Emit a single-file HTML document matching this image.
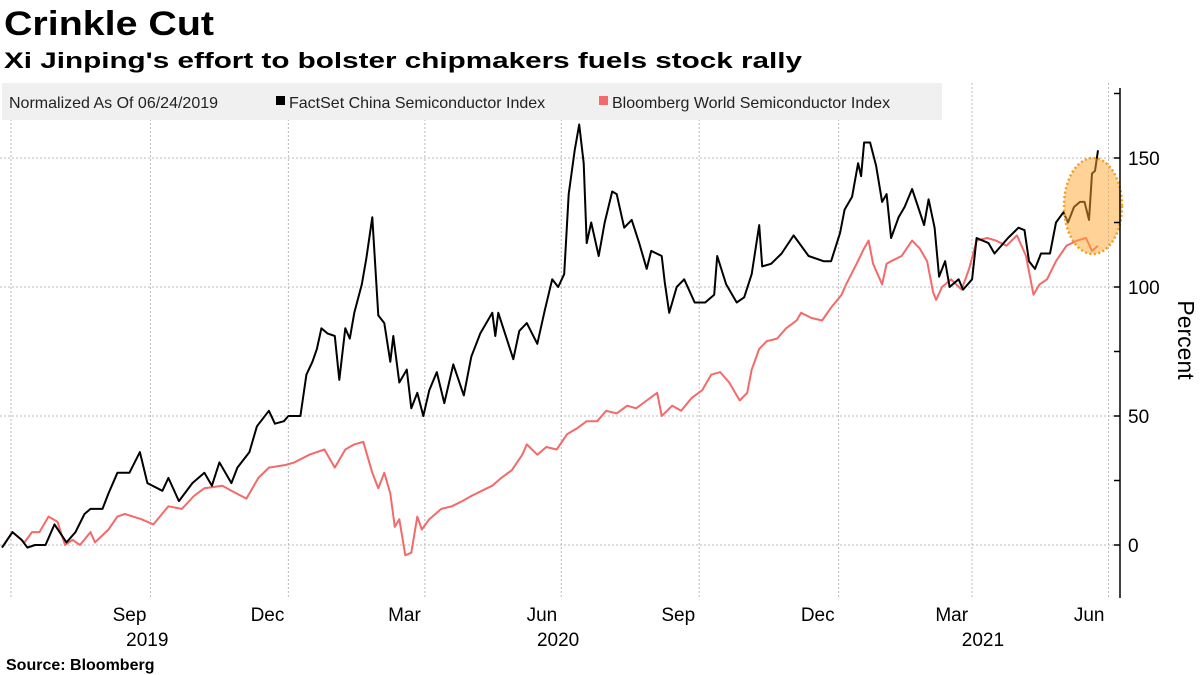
<!DOCTYPE html>
<html><head><meta charset="utf-8"><style>
html,body{margin:0;padding:0;background:#fff;}
svg{display:block;font-family:"Liberation Sans","DejaVu Sans",sans-serif;}
</style></head><body>
<svg id="chart" width="1200" height="675" viewBox="0 0 1200 675">
<text x="4" y="35" font-size="34" font-weight="bold" textLength="210" lengthAdjust="spacingAndGlyphs">Crinkle Cut</text>
<text x="4" y="68" font-size="22" font-weight="bold" textLength="798" lengthAdjust="spacingAndGlyphs">Xi Jinping's effort to bolster chipmakers fuels stock rally</text>
<g id="grid"></g>
<g id="series"></g>
<ellipse cx="1093" cy="206" rx="29" ry="48" fill="rgba(255,168,50,0.5)" stroke="#f0a020" stroke-width="2.5" stroke-dasharray="2,2.5"/>
<rect x="2" y="83" width="940" height="37" fill="#f0f0f0"/>
<text x="9" y="108" font-size="16" fill="#222">Normalized As Of 06/24/2019</text>
<rect x="276" y="96" width="9" height="9" fill="#000"/>
<text x="289" y="108" font-size="16" fill="#222">FactSet China Semiconductor Index</text>
<rect x="599" y="96" width="9" height="9" fill="#f36a6a"/>
<text x="612" y="108" font-size="16" fill="#222">Bloomberg World Semiconductor Index</text>
<g id="axes"></g>
<text transform="translate(1178,340) rotate(90)" font-size="23" text-anchor="middle">Percent</text>
<text x="6" y="670" font-size="16" font-weight="bold">Source: Bloomberg</text>
</svg>
<script>
const chinaDays=[0,7,13,17,22,29,35,43,49,55,59,67,71,77,85,92,97,107,111,118,127,135,140,145,153,157,165,170,178,182,188,191,199,203,207,210,213,217,222,225,229,232,235,240,243,247,251,255,259,261,265,270,273,277,281,285,290,295,301,308,313,319,327,329,331,341,345,350,357,362,367,371,375,378,382,385,388,390,393,398,402,407,410,415,420,425,430,433,440,442,445,450,455,462,469,475,477,483,490,495,500,505,507,513,520,528,538,548,553,559,562,567,571,573,575,579,583,587,590,593,598,602,607,611,615,618,622,625,629,632,638,641,647,650,658,662,671,678,682,685,689,693,699,703,708,711,715,719,722,725,727,729,731];
const chinaValues=[-1,5,2,-1,0,0,8,1,5,12,14,14,20,28,28,36,24,21,26,17,24,28,23,32,24,30,36,46,52,47,48,50,50,66,71,76,84,82,81,64,84,80,90,101,111,127,89,86,71,81,63,68,53,59,50,60,67,55,70,58,73,82,90,81,90,72,83,86,78,91,103,100,105,136,153,163,148,117,125,112,125,137,136,123,126,117,107,114,112,102,90,100,103,94,94,97,112,101,94,96,105,124,108,109,113,120,112,110,110,121,130,135,148,143,156,156,147,133,136,119,127,131,138,131,124,134,123,104,110,100,103,99,103,119,117,113,119,123,122,110,107,113,113,125,129,125,131,133,133,126,144,145,153];
const worldDays=[0,7,15,20,25,31,37,42,47,52,59,62,71,77,82,93,101,111,120,128,135,147,153,163,171,178,189,195,205,215,222,229,235,241,247,251,255,259,262,265,269,273,277,280,285,293,300,307,313,320,327,333,340,347,350,357,363,370,377,383,390,397,403,410,417,423,430,437,440,447,453,460,467,473,479,485,492,497,500,505,510,517,523,530,533,540,547,553,560,563,570,575,578,581,587,590,593,600,607,612,617,621,623,627,633,640,645,650,657,663,670,677,683,688,692,697,703,710,717,723,727,731];
const worldValues=[-1,5,1,5,5,11,9,0,2,0,5,1,6,11,12,10,8,15,14,19,22,23,21,18,26,30,31,32,35,37,30,37,39,40,28,22,28,20,7,10,-4,-3,11,6,10,14,15,17,19,21,23,26,29,35,39,35,38,37,43,45,48,48,52,51,54,53,56,59,50,54,52,57,60,66,67,63,56,59,68,76,79,80,84,87,90,88,87,92,97,101,109,115,118,109,101,109,110,112,118,115,110,98,95,100,103,99,107,118,119,118,116,120,112,97,101,103,110,116,118,119,114,116];
const tickDays=[6,99,191,282,373,465,558,647,738];
const tickLabels=["","Sep","Dec","Mar","Jun","Sep","Dec","Mar","Jun"];
const yearLabels=["2019","2020","2021"];
const yearTickIndex=[1,4,7];
const yTicks=[0,50,100,150];
const yMinorTicks=[25,75,125,175];

const NS="http://www.w3.org/2000/svg";
const x=d=>2+d*(1096/731);
const y=v=>545-v*2.58;
function mk(tag,attrs,parent){const e=document.createElementNS(NS,tag);for(const k in attrs)e.setAttribute(k,attrs[k]);parent.appendChild(e);return e;}
const grid=document.getElementById('grid'),series=document.getElementById('series'),axes=document.getElementById('axes');
yTicks.forEach(v=>{
  const l=mk('line',{x1:0,x2:1118,y1:y(v),y2:y(v),stroke:'#bbb','stroke-dasharray':'2,2','stroke-width':1},grid);
  
  
});
tickDays.forEach((d,i)=>{
  const l=mk('line',{x1:x(d),x2:x(d),y1:83,y2:598,stroke:'#bbb','stroke-dasharray':'2,2','stroke-width':1},grid);
  
  
  if(tickLabels[i]){
    const t=mk('text',{x:x(d)-4,y:621,'font-size':19,'text-anchor':'end'},axes);
    t.textContent=tickLabels[i];
    
    
  }
});
yearLabels.forEach((s,i)=>{
  const d=tickDays[yearTickIndex[i]];
  const t=mk('text',{x:x(d)+(i==2?32:18),y:646,'font-size':19,'text-anchor':'end'},axes);
  t.textContent=s;
  
  
});
function path(days,vals){return days.map((d,i)=>(i?'L':'M')+x(d).toFixed(1)+','+y(vals[i]).toFixed(1)).join('');}
const w=mk('path',{d:path(worldDays,worldValues),fill:'none',stroke:'#f36a6a','stroke-width':2,'stroke-linejoin':'round'},series);


const c=mk('path',{d:path(chinaDays,chinaValues),fill:'none',stroke:'#000','stroke-width':2,'stroke-linejoin':'round'},series);


const ax=mk('line',{x1:1120,x2:1120,y1:88,y2:598,stroke:'#000','stroke-width':1.5},axes);


yTicks.forEach(v=>{
  const tk=mk('line',{x1:1114,x2:1120,y1:y(v),y2:y(v),stroke:'#000','stroke-width':1.5},axes);
  
  
  const t=mk('text',{x:1128,y:y(v)+7,'font-size':19},axes);
  t.textContent=v;
  
  
});
yMinorTicks.forEach(v=>{
  const tk=mk('line',{x1:1114,x2:1120,y1:y(v),y2:y(v),stroke:'#000','stroke-width':1.5},axes);
  
  
});
</script>
</body></html>
